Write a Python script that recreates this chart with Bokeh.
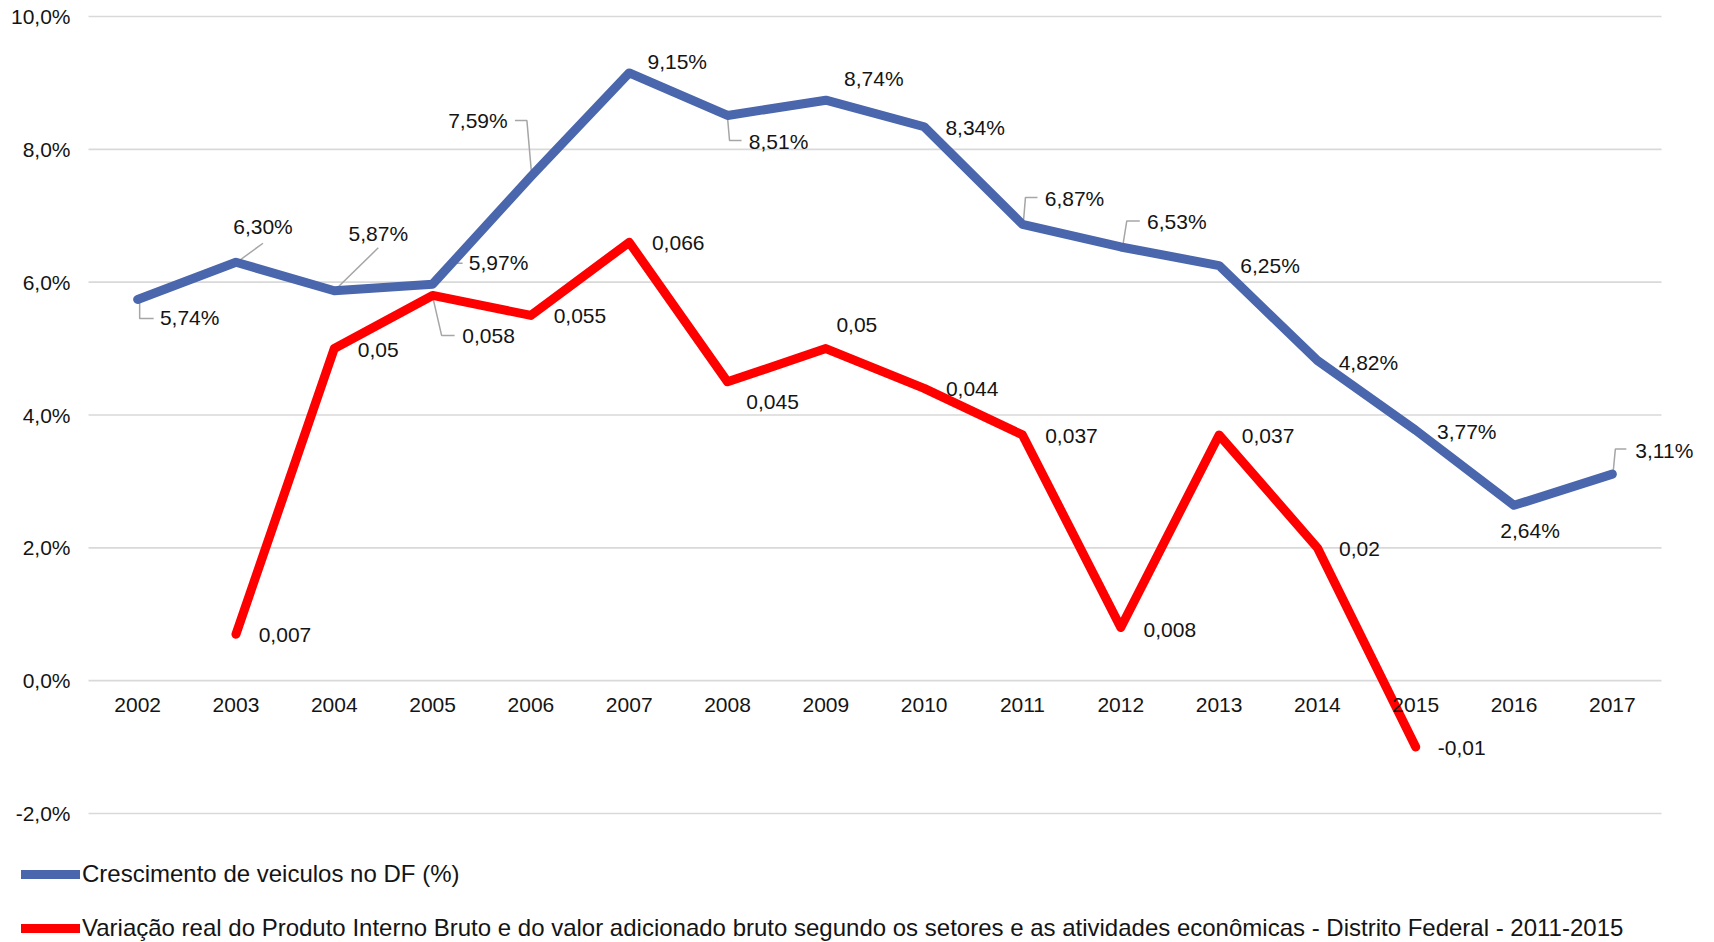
from bokeh.plotting import figure
from bokeh.models import (ColumnDataSource, Legend, LegendItem, FixedTicker,
                          CustomJSTickFormatter, Range1d)
from bokeh.core.properties import value
from bokeh.embed import file_html
from bokeh.resources import INLINE

# ---------------- data ----------------
years = [2002, 2003, 2004, 2005, 2006, 2007, 2008, 2009, 2010,
         2011, 2012, 2013, 2014, 2015, 2016, 2017]
veiculos = [0.0574, 0.0630, 0.0587, 0.0597, 0.0759, 0.0915, 0.0851, 0.0874,
            0.0834, 0.0687, 0.0653, 0.0625, 0.0482, 0.0377, 0.0264, 0.0311]
pib_years = [2003, 2004, 2005, 2006, 2007, 2008, 2009, 2010,
             2011, 2012, 2013, 2014, 2015]
pib = [0.007, 0.05, 0.058, 0.055, 0.066, 0.045, 0.05, 0.044,
       0.037, 0.008, 0.037, 0.02, -0.01]
y_ticks = [-0.02, 0.0, 0.02, 0.04, 0.06, 0.08, 0.10]
name_veiculos = "Crescimento de veiculos no DF (%)"
name_pib = ("Variação real do Produto Interno Bruto e do valor adicionado bruto "
            "segundo os setores e as atividades econômicas - Distrito Federal - 2011-2015")

# ---------------- label placement (screen px, y down) ----------------
veic_off = [(52, 18), (27, -36), (44, -57), (66, -22), (-53, -56), (48, -11),
            (51, 26), (48, -22), (51, 1), (52, -26), (56, -25), (51, 0),
            (51, 2), (51, 1), (16, 25), (52, -24)]
pib_off = [(49, 1), (44, 1), (56, 41), (49, 1), (49, 1), (45, 20), (31, -24),
           (48, 1), (49, 1), (49, 2), (49, 1), (42, 1), (46, 1)]
veic_leaders = {
    2002: [(2, 3), (2, 19), (16, 19)],
    2003: [(1, 0), (27, -19)],
    2004: [(1, -1), (44, -43)],
    2005: [(1, -2), (18, -21), (30, -21)],
    2006: [(1, 1), (-4, -56), (-16, -56)],
    2008: [(0, 2), (2, 25), (14, 25)],
    2011: [(1, -3), (3, -27), (15, -27)],
    2012: [(2, -1), (6, -26), (19, -26)],
    2017: [(1, -4), (3, -25), (14, -25)],
}
pib_leaders = {2005: [(0, 1), (9, 40), (22, 40)]}

# ---------------- geometry ----------------
W, H = 1714, 942
CW, CH = 1573, 797            # category area: width, height from -2% to 10%
CL, CT = 88, 16               # category area left / top on the page
xa, xb = 2001.5, 2017.5
sx = CW / (xb - xa)
sy = CH / 0.12
x0 = xa - CL / sx
x1 = x0 + W / sx
y1 = 0.10 + CT / sy
y0 = y1 - H / sy

FONT = "Liberation Sans"
FS = "21px"
TXT = "#141414"
BLUE = "#4A66AC"
RED = "#FF0000"

p = figure(width=W, height=H, x_range=Range1d(x0, x1), y_range=Range1d(y0, y1),
           output_backend="svg", toolbar_location=None, min_border=0)
p.outline_line_color = None
p.background_fill_color = "white"
p.border_fill_color = "white"

# y axis (fixed at left edge of category area)
p.yaxis.fixed_location = xa
p.yaxis.ticker = FixedTicker(ticks=y_ticks)
p.yaxis.formatter = CustomJSTickFormatter(
    code="return (tick*100).toFixed(1).replace('.', ',') + '%';")
p.yaxis.axis_line_color = None
p.yaxis.major_tick_line_color = None
p.yaxis.minor_tick_line_color = None
p.yaxis.major_tick_out = 0
p.yaxis.major_tick_in = 0
p.yaxis.major_label_standoff = 18
p.yaxis.major_label_text_font = FONT
p.yaxis.major_label_text_font_size = FS
p.yaxis.major_label_text_color = TXT

# x axis at y = 0
p.xaxis.fixed_location = 0
p.xaxis.ticker = FixedTicker(ticks=years)
p.xaxis.axis_line_color = None
p.xaxis.major_tick_line_color = None
p.xaxis.minor_tick_line_color = None
p.xaxis.major_tick_out = 0
p.xaxis.major_tick_in = 0
p.xaxis.major_label_standoff = 17
p.xaxis.major_label_text_font = FONT
p.xaxis.major_label_text_font_size = FS
p.xaxis.major_label_text_color = TXT

p.xgrid.visible = False
p.ygrid.visible = False
p.segment(x0=[xa] * len(y_ticks), x1=[xb] * len(y_ticks), y0=y_ticks, y1=y_ticks,
          line_color="#d9d9d9", line_width=1.6)


def leaders(xs_, ys_, spec):
    lx, ly = [], []
    for x, y in zip(xs_, ys_):
        if x in spec:
            pts = spec[x]
            lx.append([x + dx / sx for dx, dy in pts])
            ly.append([y - dy / sy for dx, dy in pts])
    return lx, ly


lx1, ly1 = leaders(years, veiculos, veic_leaders)
lx2, ly2 = leaders(pib_years, pib, pib_leaders)
p.multi_line(lx1 + lx2, ly1 + ly2, line_color="#a6a6a6", line_width=1.5)

r_blue = p.line(years, veiculos, line_color=BLUE, line_width=9,
                line_cap="round", line_join="round")
r_red = p.line(pib_years, pib, line_color=RED, line_width=9,
               line_cap="round", line_join="round")

lab_v = ColumnDataSource(dict(
    x=years, y=veiculos,
    t=[f"{v * 100:.2f}%".replace(".", ",") for v in veiculos],
    dx=[o[0] for o in veic_off], dy=[o[1] for o in veic_off]))
lab_p = ColumnDataSource(dict(
    x=pib_years, y=pib,
    t=[str(v).replace(".", ",") for v in pib],
    dx=[o[0] for o in pib_off], dy=[o[1] for o in pib_off]))
for src in (lab_v, lab_p):
    p.text(x="x", y="y", text="t", x_offset="dx", y_offset="dy", source=src,
           text_align="center", text_baseline="middle",
           text_font=value(FONT), text_font_size=FS, text_color=TXT)

legend = Legend(items=[LegendItem(label=name_veiculos, renderers=[r_blue]),
                       LegendItem(label=name_pib, renderers=[r_red])],
                location=(21, -2), orientation="vertical",
                glyph_width=59, glyph_height=32, label_height=32,
                spacing=22, padding=0, margin=0, label_standoff=2,
                label_text_font=FONT, label_text_font_size="24px",
                label_text_color=TXT, border_line_color=None,
                background_fill_alpha=0)
p.add_layout(legend)

open("out.html", "w").write(file_html(p, INLINE))
